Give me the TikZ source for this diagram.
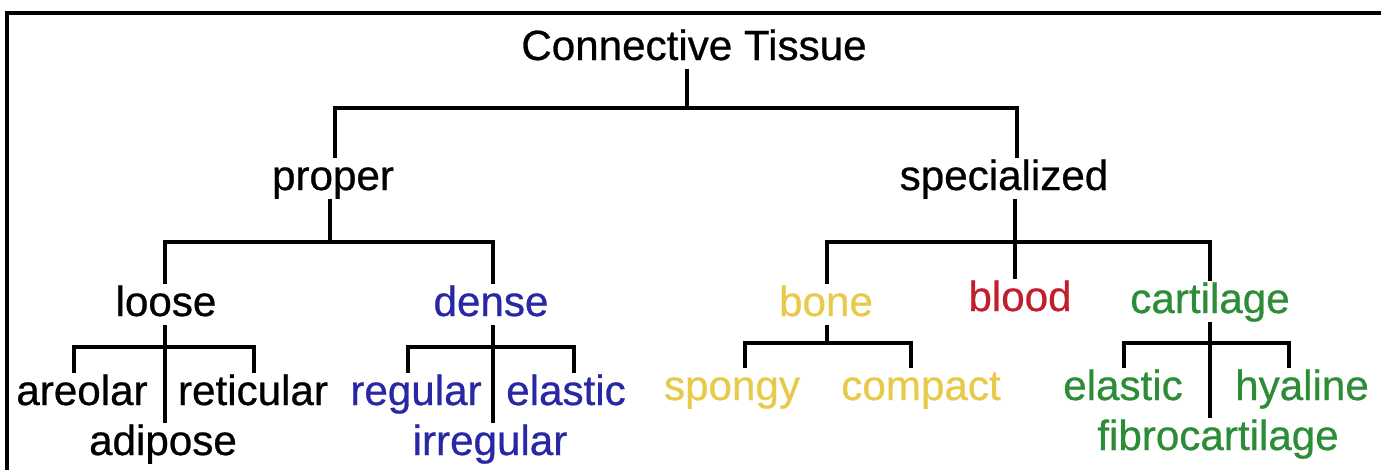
\documentclass[tikz,border=0pt]{standalone}
\usepackage{fontspec}
\setmainfont[FakeBold=0.6]{Liberation Sans}
\usepackage{xcolor}
\usetikzlibrary{positioning,calc}
\definecolor{tejblue}{RGB}{40,40,165}
\definecolor{tejyellow}{RGB}{232,202,75}
\definecolor{tejred}{RGB}{195,30,45}
\definecolor{tejgreen}{RGB}{45,140,55}
\tikzset{
  etiq/.style={font=\fontsize{24}{28}\selectfont, text height=17.5pt,
               text depth=4.5pt, inner sep=1.5pt, anchor=base},
  rama/.style={line width=2.3pt, line cap=rect},
  marco/.style={line width=1.8pt}
}

\begin{document}
\begin{tikzpicture}[x=0.02cm, y=-0.02cm]
  \useasboundingbox (0,0) rectangle (1381,470);
  % --- Marco ---
  \draw[marco] (1381,13) -- (7,13) -- (7,470);

  % --- Nodos ---
  \node[etiq] (CT)  at (694,60)  {Connective Tissue};
  \node[etiq] (PR)  at (333,190) {proper};
  \node[etiq] (SP)  at (1004,190) {specialized};
  \node[etiq] (LO)  at (166,316) {loose};
  \node[etiq, tejblue] (DE) at (491,316) {dense};
  \node[etiq, tejyellow] (BO) at (826,316) {bone};
  \node[etiq, tejred] (BL) at (1020,311) {blood};
  \node[etiq, tejgreen] (CA) at (1210,313) {cartilage};
  \node[etiq] (AR)  at (82,405)  {areolar};
  \node[etiq] (RE)  at (253,405) {reticular};
  \node[etiq] (AD)  at (163,455) {adipose};
  \node[etiq, tejblue] (RG) at (416,405) {regular};
  \node[etiq, tejblue] (EL) at (566,405) {elastic};
  \node[etiq, tejblue] (IR) at (490,455) {irregular};
  \node[etiq, tejyellow] (SPO) at (732,400) {spongy};
  \node[etiq, tejyellow] (CO) at (921,400) {compact};
  \node[etiq, tejgreen] (ELC) at (1123,400) {elastic};
  \node[etiq, tejgreen] (HY) at (1302,400) {hyaline};
  \node[etiq, tejgreen] (FI) at (1218,450) {fibrocartilage};

  % --- Barras ---
  \coordinate (t1) at (335,108);  \coordinate (t2) at (1017,108);  \coordinate (tm) at (687,108);
  \coordinate (p1) at (165,242);  \coordinate (p2) at (493,242);   \coordinate (pm) at (330,242);
  \coordinate (s1) at (827,242);  \coordinate (s2) at (1210,242);  \coordinate (sm) at (1015,242);
  \coordinate (l1) at (74,347);   \coordinate (l2) at (254,347);   \coordinate (lm) at (165,347);
  \coordinate (d1) at (408,347);  \coordinate (d2) at (574,347);   \coordinate (dm) at (493,347);
  \coordinate (b1) at (745,343);  \coordinate (b2) at (911,343);   \coordinate (bm) at (827,343);
  \coordinate (c1) at (1124,343); \coordinate (c2) at (1289,343);  \coordinate (cm) at (1210,343);

  % --- Ramas ---
  \draw[rama] (CT.south -| tm) -- (tm);
  \draw[rama] (PR.north -| t1) -- (t1) -- (t2) -- (SP.north -| t2);
  \draw[rama] (PR.south -| pm) -- (pm);
  \draw[rama] (LO.north -| p1) -- (p1) -- (p2) -- (DE.north -| p2);
  \draw[rama] (SP.south -| sm) -- (BL.north -| sm);
  \draw[rama] (BO.north -| s1) -- (s1) -- (s2) -- (CA.north -| s2);
  \draw[rama] (LO.south -| lm) -- (AD.north -| lm);
  \draw[rama] (AR.north -| l1) -- (l1) -- (l2) -- (RE.north -| l2);
  \draw[rama] (DE.south -| dm) -- (IR.north -| dm);
  \draw[rama] (RG.north -| d1) -- (d1) -- (d2) -- (EL.north -| d2);
  \draw[rama] (BO.south -| bm) -- (bm);
  \draw[rama] (SPO.north -| b1) -- (b1) -- (b2) -- (CO.north -| b2);
  \draw[rama] (CA.south -| cm) -- (FI.north -| cm);
  \draw[rama] (ELC.north -| c1) -- (c1) -- (c2) -- (HY.north -| c2);
\end{tikzpicture}
\end{document}
